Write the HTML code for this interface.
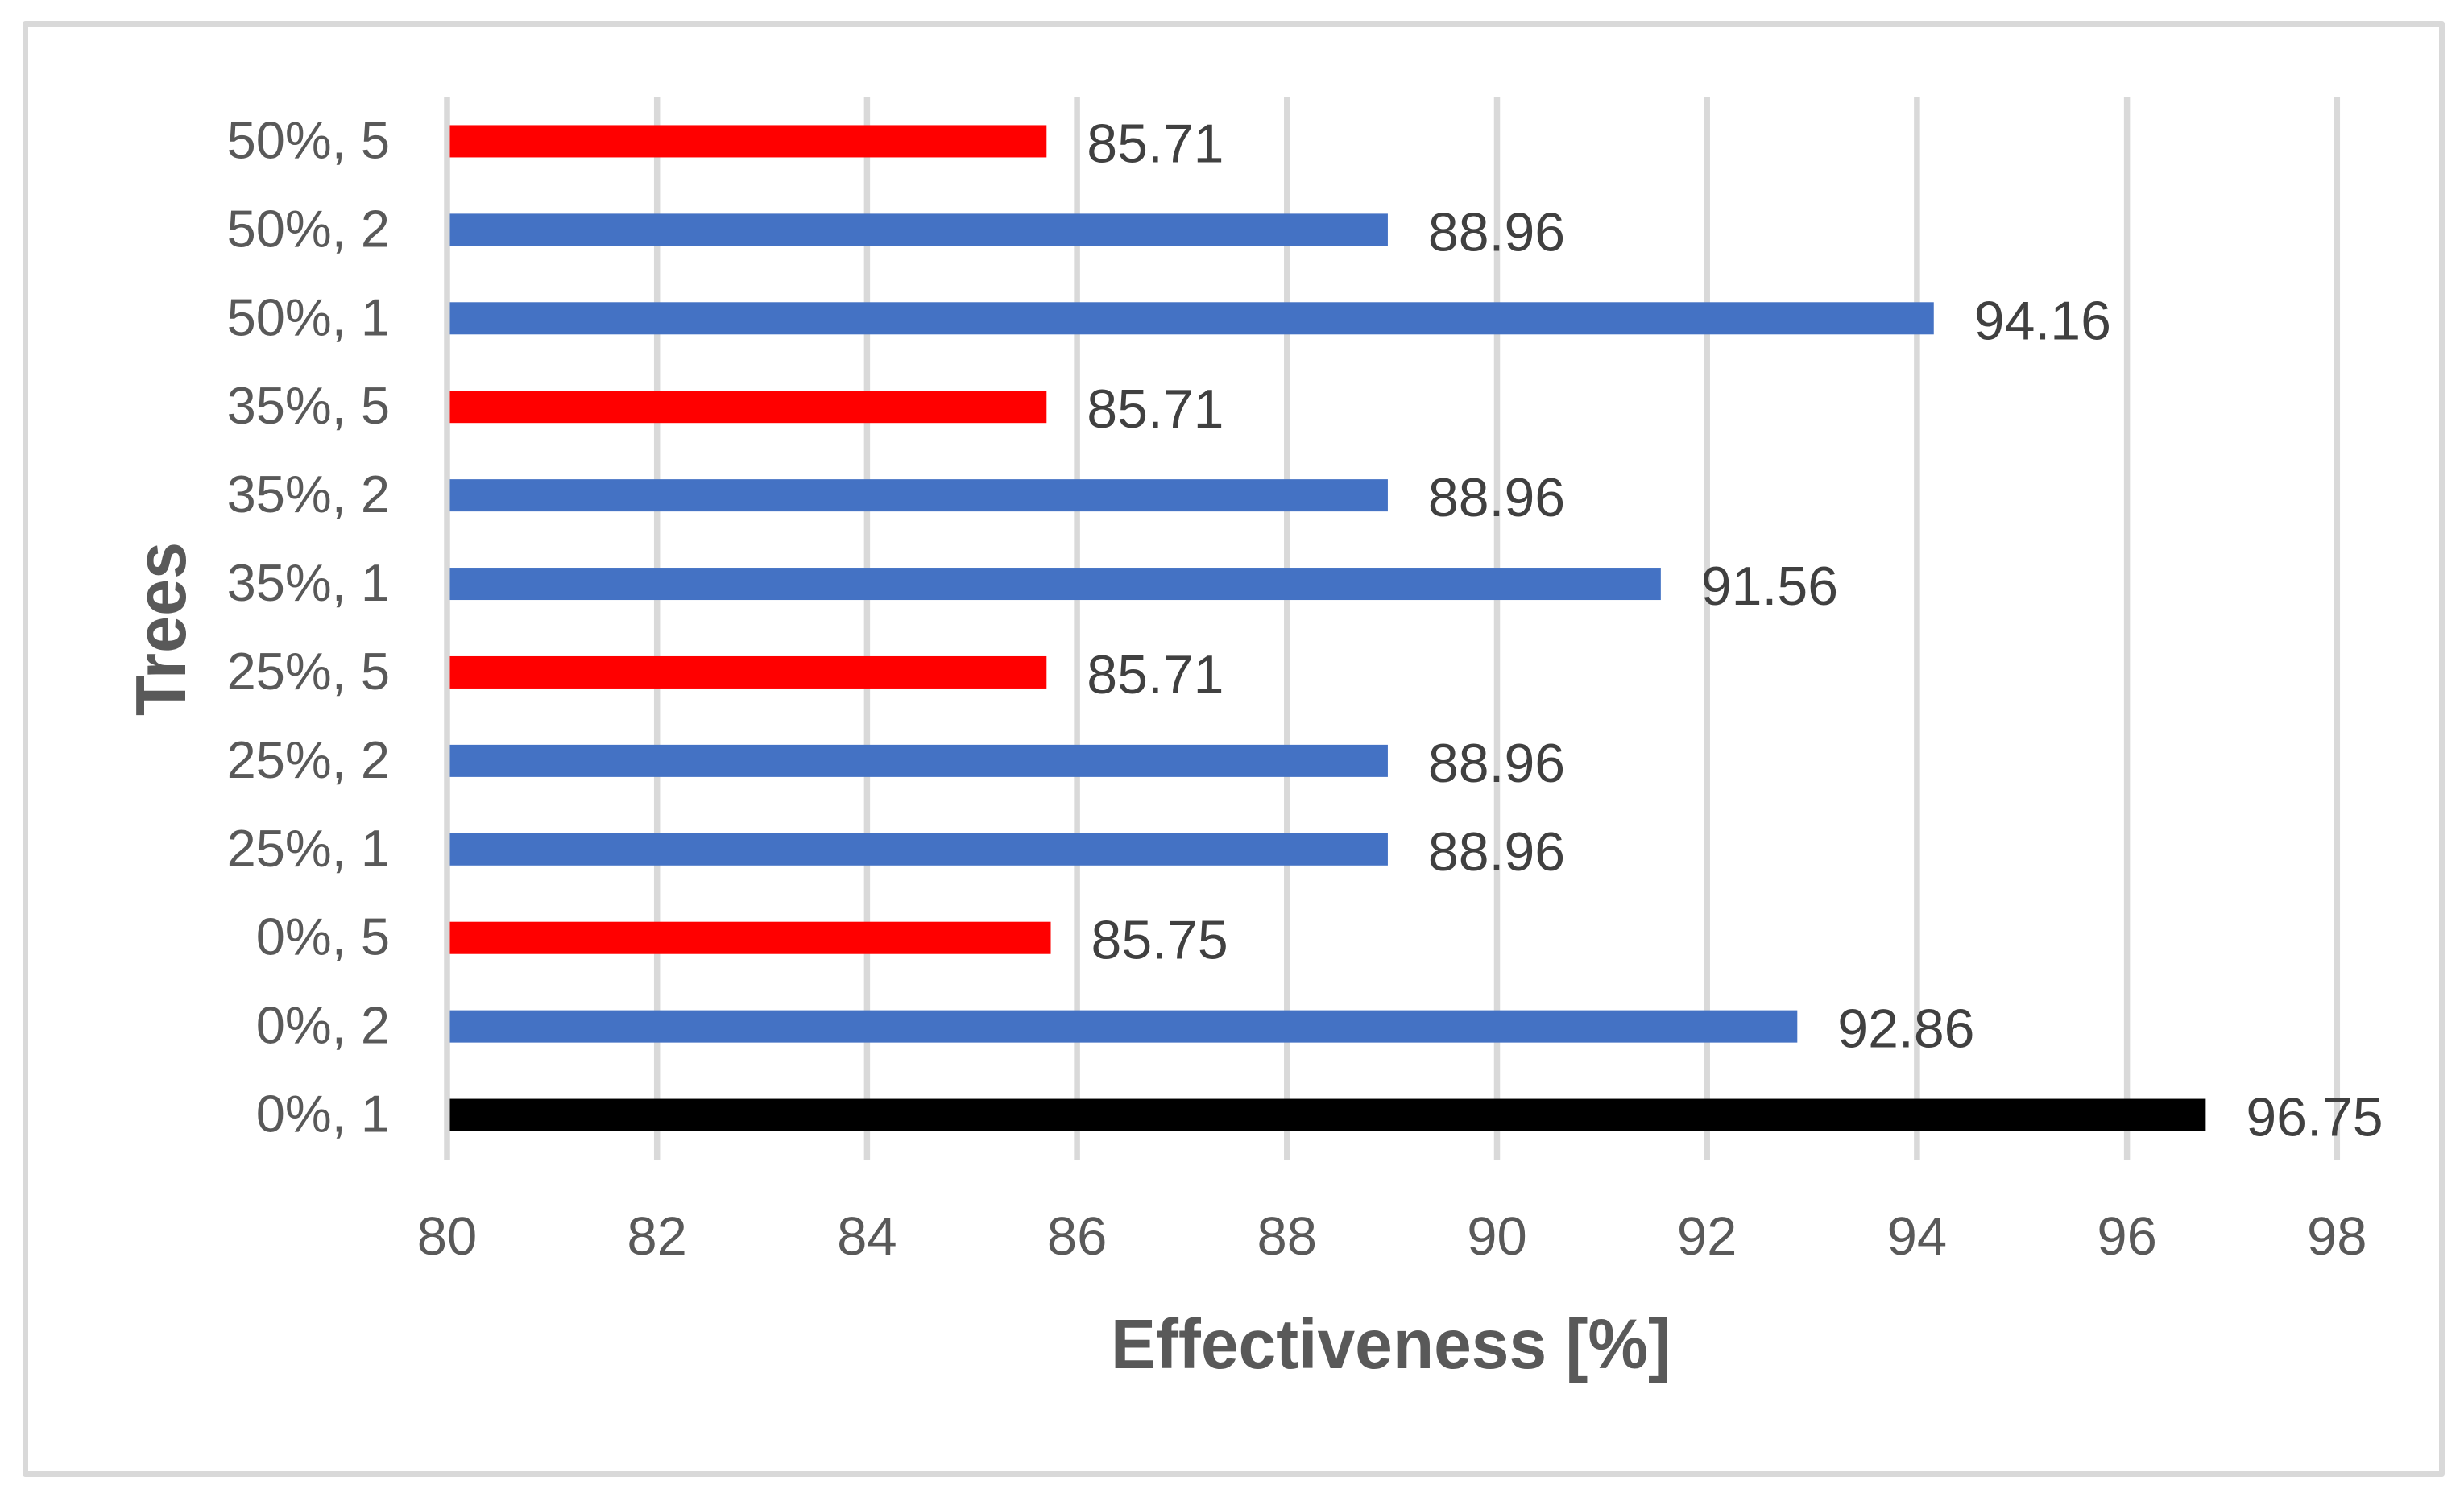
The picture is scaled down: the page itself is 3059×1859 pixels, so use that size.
<!DOCTYPE html>
<html lang="en">
<head>
<meta charset="utf-8">
<title>Effectiveness by trees</title>
<style>
html,body{margin:0;padding:0;background:#fff;width:3059px;height:1859px;overflow:hidden}
svg{display:block}
text{font-family:"Liberation Sans",sans-serif}
</style>
</head>
<body>
<svg id="chart" xmlns="http://www.w3.org/2000/svg" width="3059" height="1859" viewBox="0 0 3059 1859">
  <rect x="0" y="0" width="3059" height="1859" fill="#ffffff"/>
  <rect x="31.5" y="29.5" width="3000" height="1801" fill="#ffffff" stroke="#d9d9d9" stroke-width="7" stroke-linejoin="round"/>
  <g id="grid"></g>
  <g id="bars"></g>
  <g id="x-ticks"></g>
  <g id="y-ticks"></g>
  <g id="values"></g>
  <text x="1379" y="1699" font-size="87" font-weight="700" fill="#595959" textLength="695" lengthAdjust="spacingAndGlyphs">Effectiveness [%]</text>
  <text transform="translate(230 889) rotate(-90)" x="0" y="0" font-size="88" font-weight="700" fill="#595959" textLength="216" lengthAdjust="spacingAndGlyphs">Trees</text>
</svg>
<script>
const categories = ["50%, 5","50%, 2","50%, 1","35%, 5","35%, 2","35%, 1","25%, 5","25%, 2","25%, 1","0%, 5","0%, 2","0%, 1"];
const effectiveness = [85.71,88.96,94.16,85.71,88.96,91.56,85.71,88.96,88.96,85.75,92.86,96.75];
const xTicks = [80,82,84,86,88,90,92,94,96,98];

const NS = 'http://www.w3.org/2000/svg';
const plot = {left: 555, right: 2901.3, top: 121, bottom: 1440};
const xMin = xTicks[0];
const xMax = xTicks[xTicks.length - 1];
const band = (plot.bottom - plot.top) / categories.length;
const barHeight = 40;

function xScale(v) {
  return plot.left + (v - xMin) / (xMax - xMin) * (plot.right - plot.left);
}
function yCenter(i) {
  return plot.top + band * i + band / 2 - 0.5;
}
function barColor(i) {
  if (effectiveness[i] === Math.max.apply(null, effectiveness)) return '#000000';
  return categories[i].endsWith(', 5') ? '#ff0000' : '#4472c4';
}
function make(tag, attrs, parentId) {
  const el = document.createElementNS(NS, tag);
  for (const k in attrs) el.setAttribute(k, attrs[k]);
  document.getElementById(parentId).appendChild(el);
  return el;
}

xTicks.forEach(function (t) {
  const line = make('rect', {x: xScale(t) - 3.75, y: plot.top, width: 7.5, height: plot.bottom - plot.top, fill: '#d9d9d9'}, 'grid');
  
  
  const label = make('text', {x: xScale(t), y: 1558, 'font-size': 67, fill: '#595959', 'text-anchor': 'middle'}, 'x-ticks');
  label.textContent = String(t);
  
  
});

categories.forEach(function (c, i) {
  const cy = yCenter(i);
  const barLeft = plot.left + 3.5;
  const slug = c.replace('%, ', '-');

  const bar = make('rect', {x: barLeft, y: cy - barHeight / 2, width: xScale(effectiveness[i]) - barLeft, height: barHeight, fill: barColor(i)}, 'bars');
  
  

  const cat = make('text', {x: 484, y: cy + 21, 'font-size': 65, fill: '#595959', 'text-anchor': 'end'}, 'y-ticks');
  cat.textContent = c;
  
  

  const val = make('text', {x: xScale(effectiveness[i]) + 50, y: cy + 26, 'font-size': 68, fill: '#404040'}, 'values');
  val.textContent = effectiveness[i].toFixed(2);
  
  
});
</script>
</body>
</html>
